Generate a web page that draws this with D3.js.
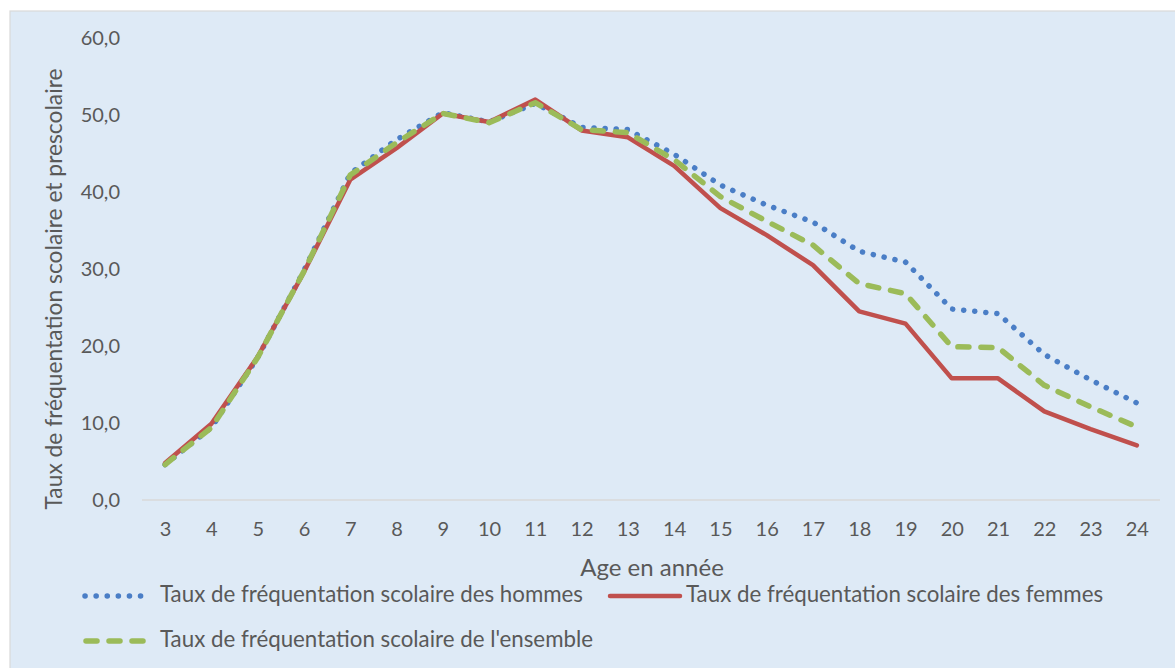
<!DOCTYPE html>
<html>
<head>
<meta charset="utf-8">
<script src="https://cdn.jsdelivr.net/npm/d3@7"></script>
<style>
  html, body { margin: 0; padding: 0; background: #fff; }
  svg { display: block; }
  text { font-family: Lato, "Open Sans", sans-serif; fill: #595959; }
</style>
</head>
<body>
<svg id="chart" width="1175" height="668"></svg>
<script>
const ages = [3,4,5,6,7,8,9,10,11,12,13,14,15,16,17,18,19,20,21,22,23,24];
const hommes =   [4.6, 9.4, 18.5, 29.8, 42.4, 46.8, 50.3, 49.1, 51.5, 48.4, 48.1, 44.9, 40.9, 38.3, 36.1, 32.3, 30.9, 24.8, 24.2, 18.9, 15.6, 12.6];
const femmes =   [4.8, 9.9, 18.6, 29.6, 41.6, 45.7, 50.2, 49.1, 52.0, 48.0, 47.1, 43.4, 37.9, 34.4, 30.5, 24.5, 22.9, 15.8, 15.8, 11.5, 9.2, 7.1];
const ensemble = [4.6, 9.4, 18.5, 29.7, 42.2, 46.4, 50.2, 49.0, 51.6, 48.1, 47.7, 44.2, 39.4, 36.2, 33.1, 28.1, 26.8, 19.9, 19.8, 14.9, 12.1, 9.5];
const yTicks = [0, 10, 20, 30, 40, 50, 60];
const seriesNames = [
  "Taux de fréquentation scolaire des hommes",
  "Taux de fréquentation scolaire des femmes",
  "Taux de fréquentation scolaire de l'ensemble"
];
const xTitle = "Age en année";
const yTitle = "Taux de fréquentation scolaire et prescolaire";

const svg = d3.select("#chart");
svg.append("rect").attr("x", 10).attr("y", 11).attr("width", 1175).attr("height", 668)
  .attr("fill", "#DEEAF6").attr("stroke", "#D9D9D9").attr("stroke-width", 1.2);

const plot = {left: 142, right: 1160, top: 38, bottom: 500};
const x = d3.scalePoint().domain(ages).range([plot.left, plot.right]).padding(0.5);
const y = d3.scaleLinear().domain([0, 60]).range([plot.bottom, plot.top]);

const fmt = v => d3.format(".1f")(v).replace(".", ",");

const yAxis = d3.axisLeft(y).tickValues(yTicks).tickFormat(fmt).tickSize(0).tickPadding(0);
const gy = svg.append("g").attr("transform", `translate(120,0)`).call(yAxis);
gy.select(".domain").remove();
gy.selectAll("text").attr("font-size", 20).style("font-family", "Lato").attr("fill", "#595959");

const xAxis = d3.axisBottom(x).tickSize(0).tickPadding(22);
const gx = svg.append("g").attr("transform", `translate(0,${plot.bottom})`).call(xAxis);
gx.select(".domain").attr("stroke", "#D9D9D9").attr("stroke-width", 1.5)
  .attr("d", `M${plot.left},0H${plot.right}`);
gx.selectAll("text").attr("font-size", 20).style("font-family", "Lato").attr("fill", "#595959");

svg.append("text").attr("x", 652).attr("y", 570).attr("text-anchor", "middle")
  .attr("dominant-baseline", "middle").attr("font-size", 24).text(xTitle);
svg.append("text").attr("transform", "translate(56,289) rotate(-90)").attr("text-anchor", "middle")
  .attr("dominant-baseline", "middle").attr("font-size", 22.8).text(yTitle);

const styles = [
  {color: "#4A7EC6", width: 5.5, dash: "0.1,11", cap: "round"},
  {color: "#C0504D", width: 4.5, dash: null, cap: "round"},
  {color: "#9BBB59", width: 5.5, dash: "11,12", cap: "round"}
];
const data = [hommes, femmes, ensemble];
const line = d3.line().x((d, i) => x(ages[i])).y(d => y(d));

data.forEach((s, k) => {
  const st = styles[k];
  svg.append("path").datum(s).attr("d", line).attr("fill", "none")
    .attr("stroke", st.color).attr("stroke-width", st.width)
    .attr("stroke-linecap", st.cap).attr("stroke-linejoin", "round")
    .attr("stroke-dasharray", st.dash);
});

const legendPos = [
  {x1: 85, x2: 150, tx: 160, y: 596},
  {x1: 610, x2: 680, tx: 686, y: 596},
  {x1: 86, x2: 150, tx: 160, y: 641}
];
legendPos.forEach((p, k) => {
  const st = styles[k];
  svg.append("line").attr("x1", p.x1).attr("x2", p.x2).attr("y1", p.y).attr("y2", p.y)
    .attr("stroke", st.color).attr("stroke-width", st.width)
    .attr("stroke-linecap", st.cap).attr("stroke-dasharray", st.dash);
  svg.append("text").attr("x", p.tx).attr("y", p.y).attr("dominant-baseline", "middle")
    .attr("font-size", 22.3).text(seriesNames[k]);
});
</script>
</body>
</html>
